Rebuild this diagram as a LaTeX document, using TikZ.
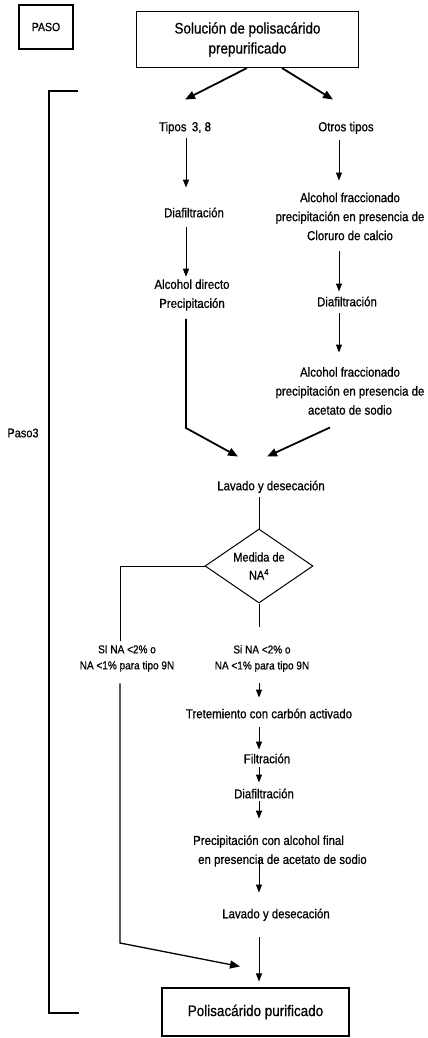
\documentclass[tikz,border=0pt]{standalone}
\usepackage{fontspec}
\setmainfont[FakeStretch=0.88, FakeBold=0.7]{Liberation Sans}
\usetikzlibrary{arrows.meta,shapes.geometric}
\begin{document}
\begin{tikzpicture}[x=1pt,y=-1pt,
  txt/.style={font=\fontsize{13}{19}\selectfont, inner sep=0pt, align=center},
  one/.style={txt, text height=9pt, text depth=2.5pt},
  small/.style={font=\fontsize{11.4}{16}\selectfont, inner sep=0pt, align=center},
  arr/.style={line width=1pt, -{Triangle[length=8pt,width=6pt]}},
  darr/.style={line width=1.8pt, -{Triangle[length=10pt,width=8pt]}},
  ln/.style={line width=1pt},
  box/.style={draw, line width=1.1pt, inner sep=0pt, align=center}]
\useasboundingbox (0,0) rectangle (428,1038);

% columns and bend points
\coordinate (colL) at (186,0);
\coordinate (colR) at (339,0);
\coordinate (colM) at (259,0);
\coordinate (colB) at (120,0);
\coordinate (kL) at (186,428);
\coordinate (kB) at (120,943);

% boxes
\node[box, minimum width=54pt, minimum height=44pt, font=\fontsize{11.9}{13}\selectfont] (paso) at (46,27) {PASO};
\node[box, minimum width=222pt, minimum height=56pt, font=\fontsize{15.3}{20}\selectfont] (top) at (247.5,39.5) {Solución de polisacárido\\prepurificado};

% bracket
\draw[line width=1.1pt] (78,91) -- (49,91) -- (49,1013) -- (79,1013);
\node[font=\fontsize{12.5}{13}\selectfont, inner sep=0pt] (paso3) at (23,433) {Paso3};

% left column
\node[one] (tipos) at (185,128) {Tipos \,3, 8};
\node[one] (diafL) at (194,214) {Diafiltración};
\node[txt] (adp) at (192,295) {Alcohol directo\\Precipitación};

% right column
\node[one] (otros) at (346,128) {Otros tipos};
\node[txt] (afc) at (350,216.5) {Alcohol fraccionado\\precipitación en presencia de\\Cloruro de calcio};
\node[one] (diafR) at (347,303) {Diafiltración};
\node[txt] (afa) at (350,391) {Alcohol fraccionado\\precipitación en presencia de\\acetato de sodio};

% merge
\node[one] (lav1) at (271,487) {Lavado y desecación};
\node[draw, diamond, line width=1pt, minimum width=108pt, minimum height=74pt, aspect=1.46, inner sep=0pt,
      font=\fontsize{12.5}{18}\selectfont, align=center] (dec) at (259,566) {Medida de\\NA\textsuperscript{4}};

% branches
\node[small] (lblL) at (127,658.5) {SI NA <2\% o\\NA <1\% para tipo 9N};
\node[small] (lblR) at (262,658.5) {Si NA <2\% o\\NA <1\% para tipo 9N};
\node[one] (tret) at (269,715) {Tretemiento con carbón activado};
\node[one] (filt) at (267,760) {Filtración};
\node[one] (diaf2) at (264,795) {Diafiltración};
\node[txt, align=left, anchor=west] (pca) at (193,851) {Precipitación con alcohol final\\\hspace*{5pt}en presencia de acetato de sodio};
\node[one] (lav2) at (276,915) {Lavado y desecación};
\node[box, minimum width=187pt, minimum height=48pt, font=\fontsize{15.3}{16}\selectfont] (fin) at (255.5,1012) {Polisacárido purificado};

% connectors top
\draw[darr] ([xshift=-0.5pt]top.south) -- ([xshift=0pt,yshift=22.5pt]tipos.north);
\draw[darr] ([xshift=34.5pt]top.south) -- ([xshift=-13pt,yshift=22.5pt]otros.north);

% left column
\draw[arr, shorten <=4.5pt, shorten >=20.5pt] (tipos.south -| colL) -- (diafL.north -| colL);
\draw[arr, shorten <=7.5pt, shorten >=2.5pt] (diafL.south -| colL) -- (adp.north -| colL);
\draw[darr, shorten <=8pt] (adp.south -| colL) -- (kL) -- ([xshift=-33pt,yshift=24.5pt]lav1.north);

% right column
\draw[arr, shorten <=6.5pt, shorten >=12pt] (otros.south -| colR) -- (afc.north -| colR);
\draw[arr, shorten <=11pt, shorten >=5.5pt] (afc.south -| colR) -- (diafR.north -| colR);
\draw[arr, shorten <=4.5pt, shorten >=14.5pt] (diafR.south -| colR) -- (afa.north -| colR);
\draw[darr] ([xshift=-20pt,yshift=-12.5pt]afa.south) -- ([xshift=-4pt,yshift=24.5pt]lav1.north);

% decision
\draw[ln, shorten <=4.5pt] (lav1.south -| colM) -- (dec.north);
\draw[ln, shorten >=4.5pt] (dec.west) -- (dec.west -| colB) -- (lblL.north -| colB);
\draw[ln, shorten >=17.5pt] (dec.south) -- (lblR.north -| colM);

% left branch
\draw[darr, line width=1.3pt, shorten <=11.5pt] (lblL.south -| colB) -- (kB) -- ([xshift=-15.5pt,yshift=21pt]fin.north);

% right branch
\draw[arr, shorten <=10.5pt, shorten >=11.5pt] (lblR.south -| colM) -- (tret.north -| colM);
\draw[arr, shorten <=6.5pt, shorten >=4.5pt] (tret.south -| colM) -- (filt.north -| colM);
\draw[arr, shorten <=1.5pt, shorten >=6.5pt] (filt.south -| colM) -- (diaf2.north -| colM);
\draw[arr, shorten >=16.5pt] (diaf2.south -| colM) -- (pca.north -| colM);
\draw[arr, shorten <=-10pt, shorten >=16.5pt] (pca.south -| colM) -- (lav2.north -| colM);
\draw[arr, shorten <=16.5pt, shorten >=6pt] (lav2.south -| colM) -- (fin.north -| colM);
\end{tikzpicture}
\end{document}
